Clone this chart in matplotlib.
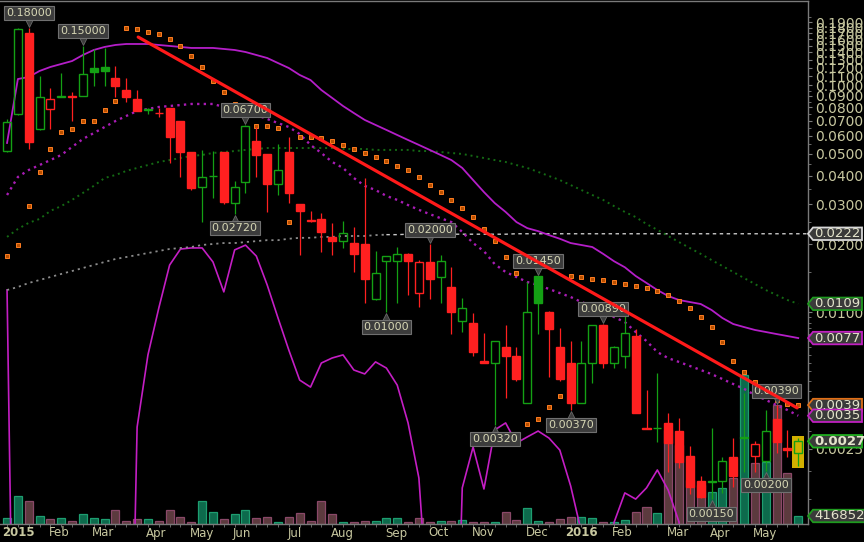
import numpy as np
import matplotlib
matplotlib.use('Agg')
import matplotlib.pyplot as plt
import matplotlib.transforms as mtransforms
from matplotlib.patches import Rectangle, Polygon
from matplotlib.ticker import LogLocator, NullFormatter

plt.rcParams['font.family'] = ['DejaVu Sans']

########## weekly candles, week of 5 Jan 2015 .. week of 30 May 2016 ##########
opens = [0.0514, 0.0749, 0.170, 0.0643, 0.0788, 0.0893, 0.0896, 0.0899, 0.1195, 0.1201,
         0.108, 0.0955, 0.0872, 0.0782, 0.0757, 0.0796, 0.0698, 0.0509, 0.0357, 0.0398,
         0.0509, 0.0303, 0.0375, 0.0569, 0.0499, 0.0368, 0.0509, 0.0300, 0.0254, 0.0258,
         0.0215, 0.0206, 0.0202, 0.0200, 0.0114, 0.0168, 0.0168, 0.0181, 0.0122, 0.0166,
         0.0143, 0.0129, 0.0092, 0.0090, 0.0061, 0.0060, 0.0070, 0.0064, 0.0040, 0.0145,
         0.0100, 0.0070, 0.0060, 0.0040, 0.0060, 0.0088, 0.0060, 0.0064, 0.0079, 0.00308,
         0.00308, 0.00325, 0.0030, 0.00233, 0.0018, 0.00179, 0.0018, 0.0023, 0.0028, 0.00233,
         0.0022, 0.0034, 0.00252, 0.0024]
highs = [0.0710, 0.179, 0.180, 0.110, 0.0975, 0.1135, 0.0936, 0.150, 0.145, 0.146,
         0.122, 0.108, 0.0955, 0.0796, 0.0796, 0.0798, 0.0700, 0.0510, 0.0519, 0.0514,
         0.0510, 0.0379, 0.0670, 0.0656, 0.0500, 0.0552, 0.0593, 0.0301, 0.0280, 0.0274,
         0.0248, 0.0253, 0.0238, 0.0391, 0.0186, 0.0178, 0.0194, 0.0182, 0.0170, 0.0200,
         0.0179, 0.0158, 0.0116, 0.0099, 0.0081, 0.0075, 0.0088, 0.0070, 0.0136, 0.0145,
         0.0101, 0.0085, 0.0075, 0.0075, 0.0088, 0.0089, 0.0071, 0.0097, 0.0084, 0.00455,
         0.0054, 0.0036, 0.00342, 0.00257, 0.0019, 0.0031, 0.0023, 0.0028, 0.0044, 0.0027,
         0.0037, 0.0039, 0.00303, 0.0028]
lows = [0.0509, 0.0740, 0.0525, 0.0636, 0.0643, 0.0890, 0.0698, 0.0897, 0.0995, 0.0995,
        0.0890, 0.0846, 0.0770, 0.0749, 0.0726, 0.0455, 0.0395, 0.0346, 0.0250, 0.0319,
        0.0300, 0.0272, 0.0336, 0.0395, 0.0277, 0.0329, 0.0303, 0.0179, 0.0250, 0.0185,
        0.0179, 0.0192, 0.0151, 0.0110, 0.0113, 0.0100, 0.0110, 0.0119, 0.0106, 0.0114,
        0.0110, 0.0080, 0.0082, 0.0064, 0.0060, 0.0032, 0.0042, 0.0050, 0.00398, 0.0080,
        0.0052, 0.0050, 0.0037, 0.00398, 0.0049, 0.0057, 0.0057, 0.0057, 0.00358, 0.00305,
        0.00268, 0.00198, 0.00205, 0.00158, 0.00152, 0.0015, 0.0016, 0.0017, 0.00198, 0.00198,
        0.0020, 0.0024, 0.0023, 0.0021]
closes = [0.0690, 0.178, 0.0563, 0.0890, 0.0872, 0.0897, 0.0893, 0.1124, 0.1147, 0.1160,
          0.0995, 0.0891, 0.0772, 0.0788, 0.0755, 0.0593, 0.0509, 0.0353, 0.0395, 0.0400,
          0.0306, 0.0357, 0.0663, 0.0494, 0.0368, 0.0424, 0.0336, 0.0280, 0.0252, 0.0226,
          0.0206, 0.0224, 0.0181, 0.0140, 0.0149, 0.0177, 0.0181, 0.0168, 0.0167, 0.0140,
          0.0168, 0.0100, 0.0104, 0.0067, 0.0060, 0.0075, 0.0064, 0.0051, 0.0100, 0.0110,
          0.0084, 0.0051, 0.0040, 0.0060, 0.0088, 0.0060, 0.0070, 0.0081, 0.0036, 0.00306,
          0.00310, 0.00265, 0.00219, 0.0017, 0.00153, 0.00181, 0.0022, 0.0019, 0.00282, 0.00263,
          0.0030, 0.00268, 0.00247, 0.0027]
volume_m = [3.1, 14.6, 12.0, 4.2, 2.6, 3.1, 1.6, 5.2, 3.1, 2.6,
            7.3, 1.6, 2.6, 2.6, 1.6, 7.3, 3.6, 1.0, 12.0, 6.2,
            2.6, 5.2, 7.3, 3.1, 3.6, 1.0, 3.6, 5.7, 1.6, 12.0,
            5.2, 1.0, 1.0, 1.6, 1.6, 3.1, 3.1, 1.0, 3.1, 1.0,
            1.6, 1.6, 2.1, 1.0, 1.0, 1.0, 6.2, 2.1, 8.3, 1.6,
            1.0, 2.6, 3.6, 3.6, 3.1, 1.0, 1.0, 2.1, 6.2, 8.8,
            5.7, 48.9, 41.1, 22.9, 20.3, 16.6, 18.7, 23.9, 77.5, 31.7,
            32.2, 61.9, 26.5, 4.168525]

########## overlays ##########
upper = [0.0558, 0.1068, 0.1090, 0.1159, 0.1207, 0.1244, 0.1282, 0.1363, 0.1434, 0.1479,
         0.1509, 0.1524, 0.1524, 0.1524, 0.1509, 0.1494, 0.1479, 0.1464, 0.1464, 0.1464,
         0.1449, 0.1434, 0.1405, 0.1363, 0.1322, 0.1256, 0.1194, 0.1113, 0.1057, 0.0955,
         0.0881, 0.0812, 0.0756, 0.0705, 0.0670, 0.0637, 0.0605, 0.0575, 0.0547, 0.0520,
         0.0494, 0.0469, 0.0433, 0.0383, 0.0339, 0.0303, 0.0277, 0.0250, 0.0235, 0.0228,
         0.0219, 0.0211, 0.0202, 0.0198, 0.0194, 0.0181, 0.0168, 0.0158, 0.01446, 0.01347,
         0.01254, 0.01180, 0.01133, 0.01110, 0.01088, 0.01024, 0.00944, 0.00888, 0.00861, 0.00836,
         0.00819, 0.00802, 0.00786, 0.0077]
middle = [0.0329, 0.0395, 0.0424, 0.0446, 0.0469, 0.0494, 0.0536, 0.0581, 0.0617, 0.0656,
          0.0697, 0.0734, 0.0772, 0.0788, 0.0804, 0.0812, 0.0820, 0.0829, 0.0829, 0.0829,
          0.0804, 0.0788, 0.0764, 0.0741, 0.0712, 0.0683, 0.0656, 0.0611, 0.0547, 0.0504,
          0.0460, 0.0433, 0.0391, 0.0361, 0.0346, 0.0326, 0.0313, 0.0297, 0.0283, 0.0271,
          0.0260, 0.0250, 0.0226, 0.0202, 0.0186, 0.0163, 0.01506, 0.01431, 0.0136, 0.0132,
          0.01267, 0.01216, 0.01168, 0.0111, 0.01066, 0.01014, 0.00953, 0.00906, 0.00819, 0.00747,
          0.00668, 0.00628, 0.00604, 0.0058, 0.00557, 0.00534, 0.00508, 0.00483, 0.0046, 0.00432,
          0.00411, 0.0039, 0.00371, 0.0035]
green_ma = [0.0215, 0.0233, 0.0248, 0.0258, 0.0280, 0.0294, 0.0313, 0.0336, 0.0361, 0.0391,
            0.0403, 0.0420, 0.0433, 0.0446, 0.0460, 0.0469, 0.0479, 0.0489, 0.0494, 0.0504,
            0.0509, 0.0514, 0.0520, 0.0525, 0.0530, 0.0530, 0.0530, 0.0530, 0.0530, 0.0530,
            0.0530, 0.0525, 0.0525, 0.0525, 0.0520, 0.0520, 0.0520, 0.0520, 0.0514, 0.0514,
            0.0509, 0.0504, 0.0499, 0.0489, 0.0479, 0.0469, 0.0460, 0.0446, 0.0433, 0.0416,
            0.0399, 0.0383, 0.0364, 0.0346, 0.0329, 0.0313, 0.0294, 0.0277, 0.0263, 0.0245,
            0.0231, 0.0217, 0.0204, 0.0192, 0.0181, 0.0170, 0.0160, 0.01506, 0.01416, 0.01333,
            0.01254, 0.01192, 0.01133, 0.0109]
gray_ma = [0.01254, 0.01293, 0.01347, 0.01388, 0.01431, 0.01476, 0.01521, 0.01568, 0.01617, 0.01667,
           0.01718, 0.01753, 0.01789, 0.01825, 0.01864, 0.01902, 0.01921, 0.01941, 0.01981, 0.02001,
           0.0202, 0.0202, 0.0204, 0.0206, 0.0208, 0.0208, 0.0211, 0.0213, 0.0213, 0.0215,
           0.0215, 0.0217, 0.0217, 0.0217, 0.0219, 0.0220, 0.0220, 0.0221, 0.0221, 0.0221,
           0.0221, 0.0221, 0.0221, 0.0221, 0.0221, 0.0221, 0.0221, 0.0222, 0.0222, 0.0222,
           0.0222, 0.0222, 0.0222, 0.0222, 0.0222, 0.0222, 0.0222, 0.0222, 0.0222, 0.0222,
           0.0222, 0.0222, 0.0222, 0.0222, 0.0222, 0.0222, 0.0222, 0.0222, 0.0222, 0.0222,
           0.0222, 0.0222, 0.0222, 0.0222]
sar = [0.0177, 0.0198, 0.0294, 0.0416, 0.0525, 0.0624, 0.0643, 0.0697, 0.0697, 0.0780,
       0.0854, 0.180, 0.178, 0.172, 0.168, 0.160, 0.149, 0.135, 0.1207, 0.1047,
       0.0936, 0.0829, 0.0726, 0.0663, 0.0663, 0.0649, 0.0250, 0.0593, 0.0593, 0.0587,
       0.0569, 0.0547, 0.0525, 0.0504, 0.0484, 0.0465, 0.0442, 0.0424, 0.0395, 0.0364,
       0.0339, 0.0313, 0.0288, 0.0263, 0.0233, 0.0206, 0.0175, 0.0149, 0.00322, 0.00338,
       0.00382, 0.00428, 0.01446, 0.0143, 0.0140, 0.0139, 0.0136, 0.0133, 0.0131, 0.0128,
       0.0124, 0.0119, 0.0112, 0.0104, 0.00953, 0.00861, 0.0074, 0.0061, 0.00546, 0.00493,
       0.00441, 0.00411, 0.00394, 0.0039]
oscillator = [83.6, -170, -200, -200, -200, -200, -200, -200, -200, -200,
              -200, -150, 34.6, 60.4, 77.1, 92.5, 98.2, 98.6, 98.6, 93.6,
              82.9, 97.9, 99.6, 95.7, 85.4, 73.6, 62.1, 51.4, 48.9, 57.5,
              59.3, 60.4, 55.0, 53.6, 57.9, 55.7, 49.6, 36.1, 16.4, -40,
              -100, -120, 12.9, 27.5, 12.5, 33.6, 36.1, 28.9, 31.1, 33.2,
              30.7, 26.4, 13.6, -3, -50, -30, 0.5, 11.1, 8.9, 12.9,
              19.3, 12.1, 0.7, -60, -60, -60, -60, -60, -60, -60,
              -60, -60, -60, -60]
trend_x = [12.1, 72.9]
trend_y = [0.1635, 0.00379]

high_marks = [2, 7, 22, 39, 49, 55, 71]
low_marks = [21, 35, 45, 52, 65, 70]
month_labels = ['2015', 'Feb', 'Mar', 'Apr', 'May', 'Jun', 'Jul', 'Aug', 'Sep', 'Oct', 'Nov', 'Dec',
                '2016', 'Feb', 'Mar', 'Apr', 'May']
month_weeks = [0, 4, 8, 13, 17, 21, 26, 30, 35, 39, 43, 48, 52, 56, 61, 65, 69]
price_ticks = [0.0025, 0.01, 0.02, 0.03, 0.04, 0.05, 0.06, 0.07, 0.08, 0.09, 0.10,
               0.11, 0.12, 0.13, 0.14, 0.15, 0.16, 0.17, 0.18, 0.19]

W, H = 864, 542
GREEN = '#14a014'
RED = '#ff2020'
TXT = '#c8c8a0'
LINE = '#7a7a7a'

fig = plt.figure(figsize=(W / 100, H / 100), dpi=100, facecolor='black')
rect = [0, 18 / H, 808 / W, 523 / H]
axv = fig.add_axes(rect)
axo = fig.add_axes(rect)
ax = fig.add_axes(rect)
n = len(closes)
x = np.arange(n)
xlim = (-0.65, 73.9)
up = [True] + [closes[i] >= closes[i - 1] for i in range(1, n)]

########## volume ##########
vols = [v * 1e6 for v in volume_m]
axv.bar(x, vols, width=0.74,
        color=['#0d6a4c' if u else '#5c3a3e' for u in up],
        edgecolor=['#1d9e70' if u else '#8a4868' for u in up], linewidth=0.9)
axv.set_xlim(xlim)
axv.set_ylim(0, 272e6)
axv.set_axis_off()

########## oscillator ##########
axo.plot(x, oscillator, color='#c41ec4', lw=1.2)
axo.set_xlim(xlim)
axo.set_ylim(0, 186.8)
axo.set_axis_off()

########## price ##########
ax.set_yscale('log')
ax.set_xlim(xlim)
ax.set_ylim(0.001166, 0.2358)
ax.patch.set_visible(False)

ax.plot(x[:36], gray_ma[:36], color='#8c8c8c', lw=1.3, ls=(0, (1.2, 2.2)), zorder=2)
ax.plot(list(x[35:]) + [xlim[1]], gray_ma[35:] + [gray_ma[-1]], color='#c8c8c8', lw=1.0, ls=(0, (2.5, 2.5)), zorder=2)
ax.plot(x, green_ma, color='#146a14', lw=1.4, ls=(0, (1, 2)), zorder=2)
ax.plot(x, middle, color='#a81cb4', lw=1.7, ls=(0, (1, 1.8)), zorder=2)
ax.plot(x, upper, color='#b41ec8', lw=1.3, zorder=2)
ax.plot(x, sar, ls='none', marker='s', ms=3.4, mfc='#b85000', mec='#ff7d22', mew=0.7, zorder=3)

# highlight of the current bar
ax.add_patch(Rectangle((n - 1 - 0.55, lows[-1] * 0.985), 1.1, highs[-1] * 1.02 - lows[-1] * 0.985,
                       fc='#d2b000', ec='none', zorder=3.5))

for i in range(n):
    o, h, l, c = opens[i], highs[i], lows[i], closes[i]
    col = GREEN if up[i] else RED
    top, bot = max(o, c), min(o, c)
    ax.vlines(i, top, h, color=col, lw=0.9, zorder=4)
    ax.vlines(i, l, bot, color=col, lw=0.9, zorder=4)
    ax.add_patch(Rectangle((i - 0.37, bot), 0.74, top - bot, fc='none' if c > o else col,
                           ec=col, lw=1.0, zorder=5))

def mark(i, val, above):
    sign = 1 if above else -1
    tr = mtransforms.offset_copy(ax.transData, fig=fig, x=0, y=sign * 6, units='dots')
    ax.plot([i], [val], marker='v' if above else '^', ms=7, mfc='#3c3c3c', mec='#6a6a6a',
            mew=0.6, transform=tr, zorder=8, clip_on=False)
    ax.annotate(f'{val:.5f}', xy=(i, val), xytext=(0, sign * 9.5), textcoords='offset pixels',
                ha='center', va='bottom' if above else 'top', fontsize=8, color='#d6d6b4',
                bbox=dict(boxstyle='square,pad=0.18', fc='#3c3c3c', ec='#707070', lw=0.8), zorder=9)

for i in high_marks:
    mark(i, highs[i], True)
for i in low_marks:
    mark(i, lows[i], False)

ax.plot(trend_x, trend_y, color='#ff1a1a', lw=2.3, zorder=10, solid_capstyle='round')

########## axes ##########
ax.yaxis.tick_right()
ax.set_yticks(price_ticks, labels=[f'{t:.4f}' for t in price_ticks])
ax.yaxis.set_minor_locator(LogLocator(base=10, subs=np.arange(1.0, 10.0, 0.5)))
ax.yaxis.set_minor_formatter(NullFormatter())
ax.tick_params(axis='y', which='major', length=3, width=0.8, color=LINE, labelcolor=TXT, labelsize=10, pad=2)
ax.tick_params(axis='y', which='minor', length=2, width=0.6, color=LINE)
ax.set_xticks([])
ax.set_xticks(x, minor=True)
ax.tick_params(axis='x', which='minor', length=2, width=0.6, color=LINE)
ax.spines['left'].set_visible(False)
for s in ('right', 'top', 'bottom'):
    ax.spines[s].set_color(LINE)
    ax.spines[s].set_linewidth(1.0)

trans = mtransforms.blended_transform_factory(ax.transData, ax.transAxes)
for lbl, wk in zip(month_labels, month_weeks):
    bold = lbl.isdigit()
    ax.text(wk - (0.5 if bold else 0.15), -9 / 523, lbl, transform=trans, ha='left', va='center',
            color=TXT, fontsize=8.5, fontweight='bold' if bold else 'normal', clip_on=False)

def axis_tag(yd, txt, ec, bold=False, w=54):
    x0, h, tip = 808, 12.5, 5
    pts = [(x0, yd), (x0 + tip, yd + h / 2), (x0 + w, yd + h / 2), (x0 + w, yd - h / 2), (x0 + tip, yd - h / 2)]
    fig.add_artist(Polygon([(px / W, py / H) for px, py in pts], closed=True, transform=fig.transFigure,
                           fc='#3a3a3a', ec=ec, lw=1.3, zorder=20))
    fig.text((x0 + tip + 1) / W, yd / H, txt, ha='left', va='center', color='#e4e4cc', fontsize=9.5,
             fontweight='bold' if bold else 'normal', zorder=21)

def ydisp(val):
    return ax.transData.transform((0, val))[1]

axis_tag(ydisp(gray_ma[-1]), f'{gray_ma[-1]:.4f}', '#d8d8d8')
axis_tag(ydisp(green_ma[-1]), f'{green_ma[-1]:.4f}', '#1f9a1f')
axis_tag(ydisp(upper[-1]), f'{upper[-1]:.4f}', '#c020c0')
axis_tag(ydisp(sar[-1]), f'{sar[-1]:.4f}', '#e07018')
axis_tag(ydisp(middle[-1]), f'{middle[-1]:.4f}', '#c020c0')
axis_tag(ydisp(closes[-1]), f'{closes[-1]:.4f}', '#20b020', bold=True)
axis_tag(axv.transData.transform((0, vols[-1]))[1], f'{round(vols[-1])}', '#1f9a1f', w=62)

fig.savefig('out.png', dpi=100, facecolor='black')
